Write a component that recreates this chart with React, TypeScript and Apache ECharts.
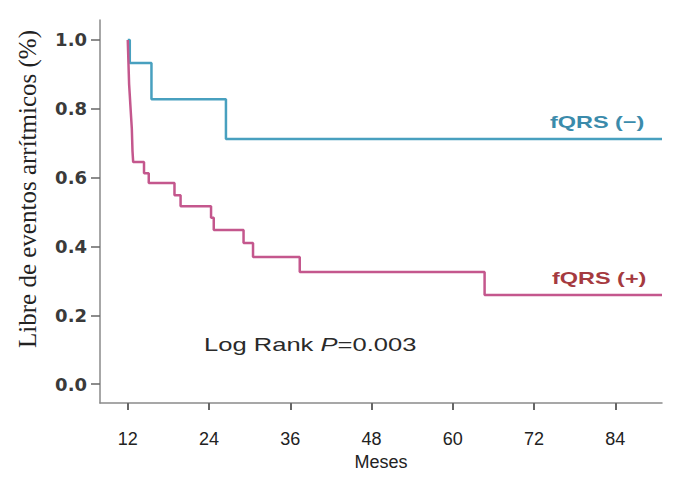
import React, { useEffect, useRef } from "react";
import * as echarts from "echarts";

const xTicks = [12, 24, 36, 48, 60, 72, 84];
const yTicks = [0, 0.2, 0.4, 0.6, 0.8, 1.0];

const negMonths = [12, 12.3, 15.5, 26.5, 90.9];
const negSurv = [1.0, 0.933, 0.828, 0.712, 0.712];

const posMonths = [12, 12.05, 12.1, 12.15, 12.2, 12.3, 12.4, 12.5, 12.6, 12.65, 12.7, 12.8, 14.4, 15.1, 18.9, 19.8, 24.3, 24.7, 29.1, 30.5, 37.4, 64.7, 90.9];
const posSurv = [1.0, 0.968, 0.935, 0.903, 0.871, 0.839, 0.806, 0.774, 0.742, 0.71, 0.677, 0.645, 0.613, 0.584, 0.549, 0.517, 0.483, 0.448, 0.41, 0.369, 0.326, 0.259, 0.259];

const negLabel = "fQRS (\u2212)";
const posLabel = "fQRS (+)";
const xName = "Meses";
const yName = "Libre de eventos arrítmicos (%)";

export default function App() {
  const ref = useRef<HTMLDivElement>(null);
  useEffect(() => {
    if (!ref.current) return;
    const chart = echarts.init(ref.current, null, { renderer: "svg" });
    const neg = negMonths.map((m, i) => [m, negSurv[i]]);
    const pos = posMonths.map((m, i) => [m, posSurv[i]]);
    chart.setOption({
      animation: false,
      backgroundColor: "#ffffff",
      grid: { left: 100, right: 33, top: 20, bottom: 84, containLabel: false },
      xAxis: {
        type: "value",
        min: 7.9,
        max: 90.9,
        name: xName,
        nameLocation: "middle",
        nameGap: 50,
        nameTextStyle: { fontFamily: "Liberation Sans", fontSize: 18, color: "#222" },
        splitLine: { show: false },
        axisLine: { onZero: false, lineStyle: { color: "#8a8a8a", width: 1.5 } },
        axisTick: { customValues: xTicks, length: 7, lineStyle: { color: "#666", width: 2 } },
        axisLabel: {
          customValues: xTicks,
          margin: 27,
          fontFamily: "Liberation Sans",
          fontSize: 18,
          color: "#222",
        },
      },
      yAxis: {
        type: "value",
        min: -0.055,
        max: 1.058,
        splitLine: { show: false },
        axisLine: { show: true, onZero: false, lineStyle: { color: "#8a8a8a", width: 1.5 } },
        axisTick: { show: true, customValues: yTicks, length: 9, lineStyle: { color: "#666", width: 1.5 } },
        axisLabel: {
          customValues: yTicks,
          margin: 13,
          fontFamily: "DejaVu Sans",
          fontWeight: "bold",
          fontSize: 18,
          color: "#3a3a3a",
          formatter: (v: number) => v.toFixed(1),
        },
      },
      graphic: [
        {
          type: "text",
          x: 27,
          y: 189,
          rotation: Math.PI / 2,
          style: {
            text: yName,
            fontFamily: "Liberation Serif",
            fontSize: 25,
            fill: "#222",
            align: "center",
            verticalAlign: "middle",
          },
        },
        {
          type: "text",
          x: 204,
          y: 345,
          scaleX: 1.42,
          style: {
            text: "{a|Log Rank }{i|P}{a|=0.003}",
            align: "left",
            verticalAlign: "middle",
            rich: {
              a: { fontFamily: "Liberation Sans", fontSize: 18, fill: "#2a2a2a" },
              i: { fontFamily: "Liberation Sans", fontSize: 18, fontStyle: "italic", fill: "#2a2a2a" },
            },
          },
        },
        {
          type: "text",
          x: 550,
          y: 122,
          scaleX: 1.38,
          style: {
            text: negLabel,
            fontFamily: "Liberation Sans",
            fontWeight: "bold",
            fontSize: 17,
            fill: "#3b8bab",
            align: "left",
            verticalAlign: "middle",
          },
        },
        {
          type: "text",
          x: 552,
          y: 278,
          scaleX: 1.38,
          style: {
            text: posLabel,
            fontFamily: "Liberation Sans",
            fontWeight: "bold",
            fontSize: 17,
            fill: "#a53a3f",
            align: "left",
            verticalAlign: "middle",
          },
        },
      ],
      series: [
        {
          type: "line",
          step: "end",
          data: neg,
          showSymbol: false,
          symbol: "none",
          lineStyle: { color: "#48a0bf", width: 2.5 },
          itemStyle: { color: "#48a0bf" },
        },
        {
          type: "line",
          step: "end",
          data: pos,
          showSymbol: false,
          symbol: "none",
          lineStyle: { color: "#c4578d", width: 2.5 },
          itemStyle: { color: "#c4578d" },
        },
      ],
    });
    return () => chart.dispose();
  }, []);
  return (
    <div
      ref={ref}
      style={{ position: "fixed", left: 0, top: 0, width: 695, height: 487, background: "#fff" }}
    />
  );
}
